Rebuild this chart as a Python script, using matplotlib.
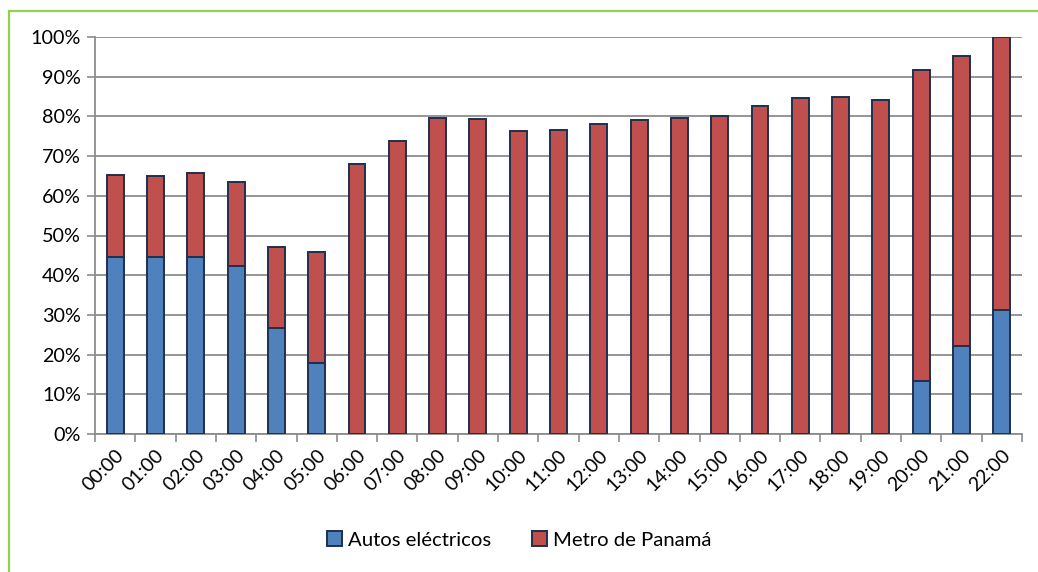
import numpy as np
import matplotlib.pyplot as plt
from matplotlib.patches import Rectangle
from matplotlib.ticker import PercentFormatter, FixedLocator

hours = ['00:00', '01:00', '02:00', '03:00', '04:00', '05:00', '06:00', '07:00',
         '08:00', '09:00', '10:00', '11:00', '12:00', '13:00', '14:00', '15:00',
         '16:00', '17:00', '18:00', '19:00', '20:00', '21:00', '22:00']
autos = [44.6, 44.6, 44.6, 42.3, 26.7, 17.9, 0, 0, 0, 0, 0, 0, 0, 0, 0, 0,
         0, 0, 0, 0, 13.4, 22.2, 31.2]
totals = [65.2, 65.0, 65.7, 63.5, 47.2, 45.9, 68.0, 73.8, 79.6, 79.3, 76.3, 76.6,
          78.1, 79.1, 79.6, 80.0, 82.7, 84.6, 84.9, 84.2, 91.7, 95.2, 100.0]
metro = [t - a for t, a in zip(totals, autos)]

plt.rcParams['font.family'] = ['Lato', 'DejaVu Sans']

fig = plt.figure(figsize=(10.38, 5.72), dpi=100)
ax = fig.add_axes([95 / 1038, 1 - 434 / 572, (1022 - 95) / 1038, (434 - 37) / 572])

x = np.arange(len(hours))
edge = '#1F2F4F'
ax.bar(x, autos, width=0.42, color='#4F81BD', edgecolor=edge, linewidth=1.4,
       label='Autos eléctricos', zorder=3)
ax.bar(x, metro, width=0.42, bottom=autos, color='#C0504D', edgecolor=edge,
       linewidth=1.4, label='Metro de Panamá', zorder=3)

ax.set_xlim(-0.5, len(hours) - 0.5)
ax.set_ylim(0, 100)
ax.set_yticks(np.arange(0, 101, 10))
ax.yaxis.set_major_formatter(PercentFormatter(decimals=0))
ax.yaxis.grid(True, color='#8C8C8C', linewidth=1.3, zorder=0)

ax.set_xticks(x)
ax.set_xticklabels(hours, rotation=45, ha='right', rotation_mode='anchor', fontsize=14)
ax.tick_params(axis='x', which='major', length=0, pad=9)
ax.xaxis.set_minor_locator(FixedLocator(np.arange(-0.5, len(hours), 1)))
ax.tick_params(axis='x', which='minor', length=6, color='#8C8C8C', width=1.2)
ax.tick_params(axis='y', length=6, color='#8C8C8C', width=1.2, labelsize=14.2, pad=4)

for s in ['top', 'right']:
    ax.spines[s].set_visible(False)
for s in ['left', 'bottom']:
    ax.spines[s].set_color('#8C8C8C')
    ax.spines[s].set_linewidth(1.3)

fig.legend(loc='center', bbox_to_anchor=(0.5, 1 - 540 / 572), ncol=2, frameon=False,
           fontsize=14.6, handlelength=0.75, handleheight=0.75, handletextpad=0.3,
           columnspacing=2.0)

fig.patches.append(Rectangle((9 / 1038, -0.1), 1.2, (572 - 11) / 572 + 0.1,
                             transform=fig.transFigure, fill=False,
                             edgecolor='#92D050', linewidth=1.6))

fig.savefig('out.png', dpi=100)
